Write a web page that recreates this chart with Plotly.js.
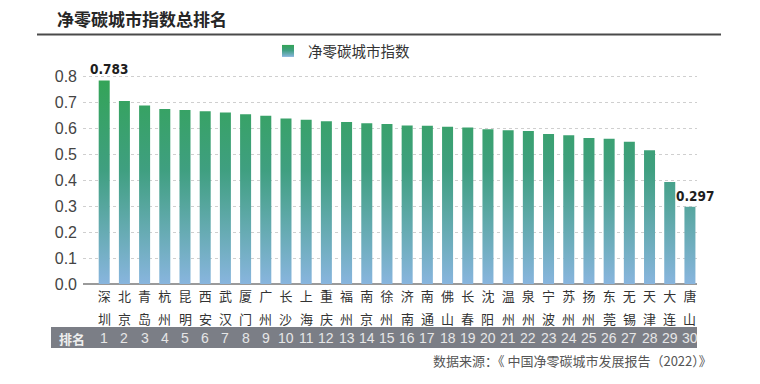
<!DOCTYPE html>
<html>
<head>
<meta charset="utf-8">
<script src="https://cdn.plot.ly/plotly-3.0.1.min.js"></script>
<style>
html,body{margin:0;padding:0;background:#fff;}
#chart{width:760px;height:384px;}
</style>
</head>
<body>
<div id="chart"></div>
<script>
// ---- data ----
const cities = ['深圳','北京','青岛','杭州','昆明','西安','武汉','厦门','广州','长沙',
                '上海','重庆','福州','南京','徐州','济南','南通','佛山','长春','沈阳',
                '温州','泉州','宁波','苏州','扬州','东莞','无锡','天津','大连','唐山'];
const indexValues = [0.783,0.704,0.687,0.673,0.669,0.664,0.660,0.653,0.647,0.637,
                     0.632,0.626,0.623,0.618,0.615,0.610,0.609,0.605,0.602,0.595,
                     0.591,0.588,0.577,0.572,0.562,0.559,0.547,0.514,0.392,0.297];
const ranks = ['1','2','3','4','5','6','7','8','9','10','11','12','13','14','15',
               '16','17','18','19','20','21','22','23','24','25','26','27','28','29','30'];
const yTicks = [0,0.1,0.2,0.3,0.4,0.5,0.6,0.7,0.8];
const seriesName = '净零碳城市指数';
const chartTitle = '净零碳城市指数总排名';
const rankLabel = '排名';
const sourceText = '数据来源：《 中国净零碳城市发展报告（2022）》';
const labeledIdx = [0, cities.length - 1];

// ---- layout helpers ----
const CJK = '"Noto Sans CJK SC", "Liberation Sans", sans-serif';
const NUM = '"Liberation Sans", "Noto Sans CJK SC", sans-serif';
const NARROW = '"Liberation Sans Narrow", "DejaVu Sans Condensed", "Liberation Sans", sans-serif';

const plotL = 83, plotR = 697, plotT = 64, plotB = 284, W = 760, H = 384;
const pw = plotR - plotL, ph = plotB - plotT;
const px2x = p => (p - plotL) / pw;
const px2y = p => (plotB - p) / ph;

const trace = {
  type: 'bar',
  x: cities,
  y: indexValues,
  name: seriesName,
  marker: {color: '#3f9f78', line: {width: 0}},
  showlegend: true,
  hoverinfo: 'x+y'
};

const annotations = [];
labeledIdx.forEach(i => {
  annotations.push({
    x: cities[i], y: indexValues[i], xref: 'x', yref: 'y',
    text: indexValues[i].toFixed(3), showarrow: false,
    xanchor: 'center', yanchor: 'bottom', xshift: 5, yshift: 1,
    font: {family: NARROW, size: 13.5, color: '#1e1e1e', weight: 'bold'}
  });
});
// second character of each city name, placed as a second label row
cities.forEach(c => {
  annotations.push({
    x: c, y: px2y(318), xref: 'x', yref: 'paper',
    text: c.slice(1), showarrow: false, xanchor: 'center', yanchor: 'middle',
    font: {family: CJK, size: 13, color: '#333333'}
  });
});
ranks.forEach((r, i) => {
  annotations.push({
    x: cities[i], y: px2y(338), xref: 'x', yref: 'paper',
    text: r, showarrow: false, xanchor: 'center', yanchor: 'middle',
    font: {family: NUM, size: 14, color: '#e6e6e6'}
  });
});
annotations.push({
  x: px2x(72), y: px2y(338), xref: 'paper', yref: 'paper',
  text: rankLabel, showarrow: false, xanchor: 'center', yanchor: 'middle',
  font: {family: CJK, size: 13, color: '#eeeeee', weight: 'bold'}
});
annotations.push({
  x: px2x(714), y: px2y(360), xref: 'paper', yref: 'paper',
  text: sourceText, showarrow: false, xanchor: 'right', yanchor: 'middle',
  font: {family: CJK, size: 13, color: '#555555'}
});

const layout = {
  width: W, height: H,
  paper_bgcolor: '#ffffff', plot_bgcolor: '#ffffff',
  margin: {l: plotL, r: W - plotR, t: plotT, b: H - plotB, pad: 0},
  title: {
    text: chartTitle, x: 57 / W, xanchor: 'left', xref: 'container',
    y: 1 - 20 / H, yanchor: 'middle', yref: 'container',
    font: {family: CJK, size: 17, color: '#262626', weight: 'bold'}
  },
  bargap: 0.455,
  xaxis: {
    type: 'category', range: [-1.05, 29.35],
    tickmode: 'array', tickvals: cities,
    ticktext: cities.map(c => c.slice(0, 1)),
    ticks: '', showgrid: false, showline: false, zeroline: false,
    tickfont: {family: CJK, size: 13, color: '#333333'},
    ticklabelstandoff: 3, fixedrange: true
  },
  yaxis: {
    range: [0, (plotB - plotT) / 260],
    tickmode: 'array', tickvals: yTicks, ticktext: yTicks.map(v => v.toFixed(1)),
    ticks: '', showline: false,
    showgrid: true, gridcolor: '#cfcfcf', griddash: '3px,3px', gridwidth: 1,
    zeroline: true, zerolinecolor: '#9a9a9a', zerolinewidth: 1.5,
    tickfont: {family: NUM, size: 16, color: '#444444'},
    ticklabelstandoff: 5, fixedrange: true
  },
  legend: {
    orientation: 'h', x: px2x(268), xanchor: 'left', y: px2y(51), yanchor: 'middle',
    font: {family: CJK, size: 14.5, color: '#333333'},
    bgcolor: 'rgba(0,0,0,0)', borderwidth: 0
  },
  shapes: [
    {type: 'line', xref: 'paper', yref: 'paper', x0: px2x(37), x1: px2x(721),
     y0: px2y(34.5), y1: px2y(34.5), line: {color: '#4a4a4a', width: 2}},
    {type: 'rect', xref: 'paper', yref: 'paper', x0: px2x(51), x1: px2x(697),
     y0: px2y(327), y1: px2y(348), fillcolor: '#7b7e86', line: {width: 0}, layer: 'below'}
  ],
  annotations: annotations
};

Plotly.newPlot('chart', [trace], layout, {displayModeBar: false, staticPlot: true}).then(gd => {
  const svg = gd.querySelector('svg.main-svg');
  const defs = svg.querySelector('defs');
  const NS = 'http://www.w3.org/2000/svg';
  const ya = gd._fullLayout.yaxis;
  function makeGrad(id, userSpace) {
    const g = document.createElementNS(NS, 'linearGradient');
    g.setAttribute('id', id);
    g.setAttribute('x1', 0); g.setAttribute('x2', 0);
    if (userSpace) {
      g.setAttribute('gradientUnits', 'userSpaceOnUse');
      g.setAttribute('y1', ya.l2p(0.8)); g.setAttribute('y2', ya.l2p(0));
    } else {
      g.setAttribute('y1', 0); g.setAttribute('y2', 1);
    }
    [['0', '#33a456'], ['0.45', '#3f9f80'], ['1', '#88b5de']].forEach(s => {
      const st = document.createElementNS(NS, 'stop');
      st.setAttribute('offset', s[0]);
      st.setAttribute('stop-color', s[1]);
      g.appendChild(st);
    });
    defs.appendChild(g);
  }
  makeGrad('barGrad', true);
  makeGrad('legGrad', false);
  gd.querySelectorAll('.barlayer .point path').forEach(p => { p.style.fill = 'url(#barGrad)'; });
  gd.querySelectorAll('.legend .legendpoints path').forEach(p => { p.style.fill = 'url(#legGrad)'; });
});
</script>
</body>
</html>
